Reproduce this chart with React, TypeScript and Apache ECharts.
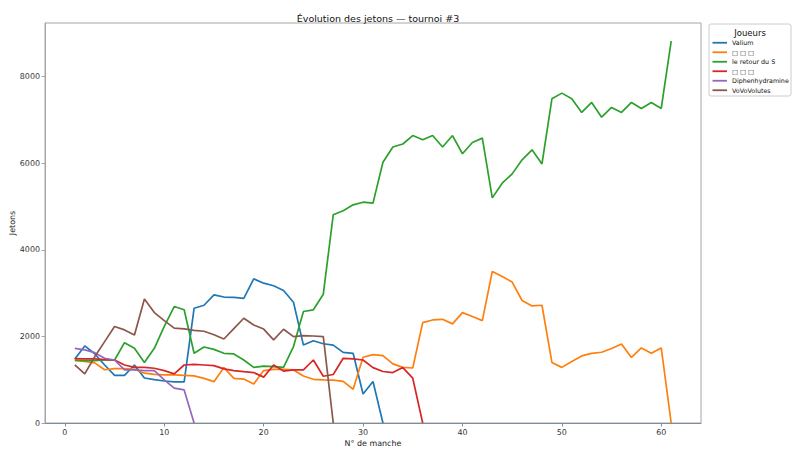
import React, { useEffect, useRef } from "react";
import * as echarts from "echarts";

const TITLE = "Évolution des jetons — tournoi #3";
const X_NAME = "N° de manche";
const Y_NAME = "Jetons";
const LEGEND_TITLE = "Joueurs";

const X_TICKS = [0, 10, 20, 30, 40, 50, 60];
const Y_TICKS = [0, 2000, 4000, 6000, 8000];

const NAMES = ["Valium", "□ □ □", "le retour du S", "□ □ □ ", "Diphenhydramine", "VoVoVolutes"];
const COLORS = ["#1f77b4", "#ff7f0e", "#2ca02c", "#d62728", "#9467bd", "#8c564b"];

const VALIUM = [
  1480, 1780, 1600, 1340, 1100, 1100, 1340, 1040, 1000, 970,
  950, 950, 2650, 2720, 2960, 2910, 2900, 2880, 3330, 3230,
  3170, 3060, 2790, 1800, 1900, 1830, 1800, 1630, 1610, 670,
  960, 0,
];
const ORANGE = [
  1440, 1420, 1390, 1230, 1255, 1255, 1240, 1150, 1125, 1110,
  1110, 1100, 1090, 1030, 955, 1280, 1030, 1015, 900, 1210,
  1240, 1240, 1225, 1085, 1010, 995, 990, 960, 780, 1520,
  1580, 1555, 1365, 1285, 1270, 2320, 2380, 2395, 2290, 2550,
  2460, 2365, 3500, 3385, 3255, 2830, 2705, 2720, 1400, 1285,
  1420, 1550, 1610, 1635, 1720, 1825, 1515, 1735, 1610, 1735,
  0,
];
const GREEN = [
  1455, 1440, 1440, 1455, 1455, 1855, 1725, 1395, 1725, 2230,
  2690, 2615, 1610, 1755, 1700, 1610, 1595, 1455, 1285, 1315,
  1300, 1285, 1765, 2575, 2615, 2975, 4810, 4905, 5040, 5100,
  5080, 6025, 6375, 6445, 6640, 6545, 6640, 6375, 6640, 6220,
  6480, 6580, 5200, 5540, 5755, 6080, 6310, 5985, 7490, 7620,
  7490, 7175, 7405, 7065, 7290, 7175, 7405, 7265, 7405, 7265,
  8820,
];
const RED = [
  1485, 1480, 1480, 1465, 1455, 1340, 1285, 1285, 1265, 1210,
  1135, 1340, 1355, 1340, 1325, 1250, 1210, 1185, 1165, 1060,
  1340, 1200, 1225, 1225, 1455, 1080, 1120, 1495, 1480, 1455,
  1280, 1190, 1165, 1280, 1035, 0,
];
const PURPLE = [
  1725, 1690, 1625, 1495, 1455, 1225, 1225, 1210, 1210, 995,
  805, 765, 0,
];
const BROWN = [
  1345, 1135, 1530, 1880, 2230, 2150, 2035, 2865, 2550, 2365,
  2190, 2175, 2140, 2120, 2040, 1940, 2180, 2420, 2265, 2170,
  1920, 2165, 1995, 2020, 2010, 1995, 0,
];

const SERIES_DATA = [VALIUM, ORANGE, GREEN, RED, PURPLE, BROWN];

const FONT = "DejaVu Sans";

export default function App() {
  const ref = useRef<HTMLDivElement>(null);

  useEffect(() => {
    if (!ref.current) return;
    const chart = echarts.init(ref.current, undefined, { renderer: "svg" });

    const series = SERIES_DATA.map((vals, si) => ({
      type: "line",
      name: NAMES[si],
      data: vals.map((v, i) => [i + 1, v]),
      showSymbol: false,
      symbol: "none",
      lineStyle: { color: COLORS[si], width: 1.7 },
      itemStyle: { color: COLORS[si] },
      z: 2 + si,
    }));

    const legendText = { fontFamily: FONT, fontSize: 6.35, color: "#111111", lineHeight: 6.5 };

    chart.setOption({
      animation: false,
      backgroundColor: "#ffffff",
      textStyle: { fontFamily: FONT },
      title: {
        text: TITLE,
        left: 373,
        top: 8,
        textAlign: "center",
        textStyle: { fontFamily: FONT, fontSize: 9.5, fontWeight: "normal", color: "#111" },
      },
      grid: {
        left: 45,
        right: 99,
        top: 23,
        bottom: 34,
        show: true,
        borderColor: "#a6a6a6",
        borderWidth: 1,
        backgroundColor: "transparent",
        outerBoundsMode: "none",
        containLabel: false,
      },
      legend: {
        orient: "vertical",
        left: 712.5,
        top: 39.5,
        padding: 0,
        icon: "rect",
        itemWidth: 14.5,
        itemHeight: 1.8,
        itemGap: 3,
        inactiveColor: "#111111",
        textStyle: legendText,
        formatter: (name: string) => name.trim(),
        data: NAMES.map((n) => ({ name: n, textStyle: legendText })),
        selectedMode: false,
      },
      xAxis: {
        type: "value",
        min: -2,
        max: 64,
        name: X_NAME,
        nameLocation: "middle",
        nameGap: 16,
        nameMoveOverlap: false,
        nameTextStyle: { fontFamily: FONT, fontSize: 7.94, color: "#222" },
        axisLine: { show: true, onZero: false, lineStyle: { color: "#7f8c99", width: 1 } },
        axisTick: { show: true, inside: false, length: 3.5, lineStyle: { color: "#7f8c99" }, customValues: X_TICKS },
        axisLabel: { fontFamily: FONT, fontSize: 7.94, color: "#333", margin: 5, customValues: X_TICKS },
        splitLine: { show: false },
      },
      yAxis: {
        type: "value",
        min: 0,
        max: 9240,
        name: Y_NAME,
        nameLocation: "middle",
        nameGap: 29,
        nameMoveOverlap: false,
        nameRotate: 90,
        nameTextStyle: { fontFamily: FONT, fontSize: 7.94, color: "#222" },
        axisLine: { show: true, onZero: false, lineStyle: { color: "#a6a6a6", width: 1 } },
        axisTick: { show: true, inside: false, length: 3.5, lineStyle: { color: "#a6a6a6" }, customValues: Y_TICKS },
        axisLabel: {
          fontFamily: FONT,
          fontSize: 7.94,
          color: "#333",
          margin: 5,
          customValues: Y_TICKS,
          formatter: (v: number) => String(v),
        },
        splitLine: { show: false },
      },
      graphic: [
        {
          type: "rect",
          left: 708.5,
          top: 23.5,
          shape: { width: 82, height: 72, r: 2 },
          style: { fill: "rgba(255,255,255,0.85)", stroke: "#cccccc", lineWidth: 1 },
          z: 0,
          silent: true,
        },
        {
          type: "text",
          x: 750,
          y: 32.5,
          style: {
            text: LEGEND_TITLE,
            fontFamily: FONT,
            fontSize: 8.5,
            fill: "#111",
            align: "center",
            verticalAlign: "middle",
          },
          z: 1,
          silent: true,
        },
      ],
      series,
    });

    return () => chart.dispose();
  }, []);

  return <div ref={ref} style={{ width: 800, height: 457, position: "absolute", left: 0, top: 0 }} />;
}
